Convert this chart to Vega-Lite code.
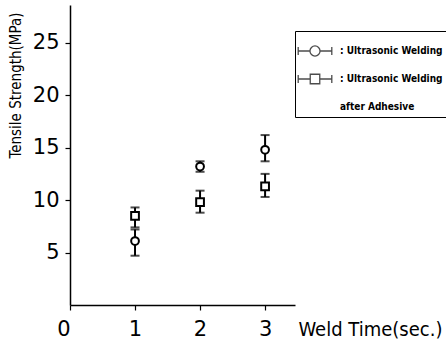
{
  "$schema": "https://vega.github.io/schema/vega-lite/v6.json",
  "autosize": "none",
  "width": 225,
  "height": 300,
  "padding": {"left": 70, "top": 5, "right": 151, "bottom": 38},
  "background": "white",
  "config": {"view": {"stroke": null}},
  "data": {"values": [
    {"t": 1, "series": "Ultrasonic Welding", "mean": 6.1, "lo": 4.7, "hi": 7.2},
    {"t": 2, "series": "Ultrasonic Welding", "mean": 13.2, "lo": 12.7, "hi": 13.7},
    {"t": 3, "series": "Ultrasonic Welding", "mean": 14.8, "lo": 13.7, "hi": 16.2},
    {"t": 1, "series": "Ultrasonic Welding after Adhesive", "mean": 8.5, "lo": 7.4, "hi": 9.3},
    {"t": 2, "series": "Ultrasonic Welding after Adhesive", "mean": 9.8, "lo": 8.8, "hi": 10.9},
    {"t": 3, "series": "Ultrasonic Welding after Adhesive", "mean": 11.3, "lo": 10.3, "hi": 12.5}
  ]},
  "encoding": {
    "x": {"field": "t", "type": "quantitative",
      "scale": {"domain": [0, 3.46], "nice": false, "zero": false},
      "axis": {"values": [0, 1, 2, 3], "grid": false, "domainColor": "black", "domainWidth": 1.5,
        "tickColor": "black", "tickSize": 5, "tickWidth": 1.2,
        "labelFont": "DejaVu Sans", "labelFontSize": 21, "labelColor": "black", "labelBaseline": "alphabetic", "labelPadding": 25,
        "labelFlush": false,
        "labelAlign": {"condition": {"test": "datum.value == 0", "value": "right"}, "value": "center"},
        "title": "Weld Time(sec.)", "titleFont": "DejaVu Sans Condensed", "titleFontSize": 20, "titleFontWeight": "normal",
        "titleColor": "black", "titleX": 228, "titleY": 30, "titleAlign": "left", "titleBaseline": "alphabetic"}
    }
  },
  "resolve": {"scale": {"shape": "independent"}},
  "layer": [
    {
      "mark": {"type": "rule", "strokeWidth": 2, "color": "black"},
      "encoding": {
        "y": {"field": "lo", "type": "quantitative",
          "scale": {"domain": [0, 28.6], "nice": false},
          "axis": {"values": [5, 10, 15, 20, 25], "grid": false, "domainColor": "black", "domainWidth": 1.5,
            "tickColor": "black", "tickSize": 5, "tickWidth": 1.2,
            "labelFont": "DejaVu Sans", "labelFontSize": 21, "labelColor": "black", "labelPadding": 6,
            "title": "Tensile Strength(MPa)", "titleFont": "DejaVu Sans Condensed", "titleFontSize": 15, "titleFontWeight": "normal",
            "titleColor": "black", "titleX": -50, "titleY": 80, "titleAngle": -90, "titleAlign": "center", "titleBaseline": "alphabetic"}},
        "y2": {"field": "hi"}
      }
    },
    {
      "mark": {"type": "tick", "orient": "horizontal", "size": 9, "thickness": 2, "color": "black"},
      "encoding": {"y": {"field": "lo", "type": "quantitative"}}
    },
    {
      "mark": {"type": "tick", "orient": "horizontal", "size": 9, "thickness": 2, "color": "black"},
      "encoding": {"y": {"field": "hi", "type": "quantitative"}}
    },
    {
      "mark": {"type": "point", "filled": false, "fill": "white", "fillOpacity": 1, "stroke": "black", "strokeWidth": 2, "size": 60, "opacity": 1},
      "encoding": {
        "y": {"field": "mean", "type": "quantitative"},
        "shape": {"field": "series", "type": "nominal",
          "scale": {"domain": ["Ultrasonic Welding", "Ultrasonic Welding after Adhesive"], "range": ["circle", "square"]},
          "legend": null
        }
      }
    },
    {
      "transform": [{"filter": "datum.t > 100"}],
      "mark": {"type": "point", "filled": false, "stroke": "black", "strokeWidth": 1.3},
      "encoding": {
        "y": {"field": "mean", "type": "quantitative"},
        "shape": {"field": "series", "type": "nominal",
          "scale": {"domain": ["Ultrasonic Welding", "Ultrasonic Welding after Adhesive", "after Adhesive"],
            "range": ["M-1.2,0L-0.36,0M0.36,0L1.2,0M-1.2,-0.28L-1.2,0.28M1.2,-0.28L1.2,0.28M0.36,0A0.36,0.36 0 1 1 -0.36,0A0.36,0.36 0 1 1 0.36,0",
                      "M-1.2,0L-0.34,0M0.34,0L1.2,0M-1.2,-0.28L-1.2,0.28M1.2,-0.28L1.2,0.28M-0.34,-0.34L0.34,-0.34L0.34,0.34L-0.34,0.34Z",
                      "M0,0"]},
          "legend": {
            "title": null, "orient": "none", "legendX": 225, "legendY": 26,
            "strokeColor": "black", "padding": 5, "fillColor": "white",
            "symbolSize": 784, "symbolStrokeColor": "black", "symbolFillColor": "white", "symbolStrokeWidth": 1.3,
            "labelFont": "DejaVu Sans Condensed", "labelFontWeight": "bold", "labelFontSize": 10, "labelColor": "black",
            "labelOffset": 10, "rowPadding": 5, "labelLimit": 200,
            "labelExpr": "datum.value == 'after Adhesive' ? '\u00a0\u00a0\u00a0\u00a0\u00a0\u00a0\u00a0\u00a0\u00a0after Adhesive' : ': Ultrasonic Welding'",
            "encode": {
              "legend": {"update": {"strokeWidth": {"value": 1.2}}}
            }
          }
        }
      }
    }
  ]
}
